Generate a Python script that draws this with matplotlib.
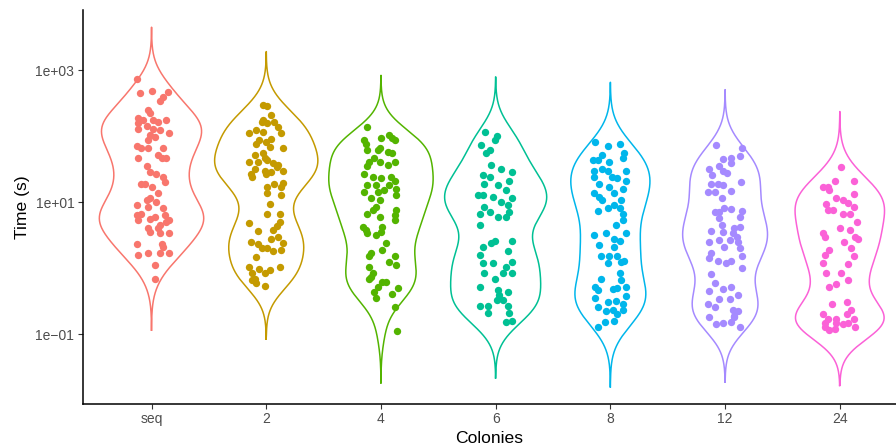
import numpy as np
import matplotlib
matplotlib.use("Agg")
import matplotlib.pyplot as plt

plt.rcParams["font.family"] = ["Liberation Sans", "DejaVu Sans"]

# categories and per-point values (seconds), plus horizontal jitter
colonies = ["seq", "2", "4", "6", "8", "12", "24"]

seq_time = [740, 450, 480, 460, 390, 340, 245, 220, 185, 175, 155, 175, 165, 175,
            130, 140, 130, 123, 110, 105, 98, 87, 71, 65, 65, 65, 46, 52, 46, 46,
            35, 29, 27, 24, 20, 19, 19, 17, 13.5, 11.4, 10.1, 10.7, 8.9, 8.5, 8.0,
            6.3, 6.7, 5.3, 5.6, 6.0, 6.3, 5.0, 5.3, 4.5, 4.0, 3.5, 4.0, 3.4, 3.4,
            2.3, 2.3, 2.1, 1.6, 1.7, 1.7, 1.7, 1.1, 0.69]
seq_jit = [-0.13, -0.10, 0.00, 0.14, 0.10, 0.07, -0.03, -0.01, -0.12, -0.07, -0.12, 0.01, 0.06, 0.13,
           -0.12, -0.04, 0.01, 0.07, 0.15, -0.01, 0.03, -0.03, -0.13, -0.09, -0.03, 0.10, -0.12, 0.06, 0.09, 0.13,
           -0.04, -0.01, 0.04, 0.10, 0.12, -0.09, -0.06, 0.00, 0.06, -0.01, 0.04, -0.04, -0.13, -0.03, 0.10,
           -0.13, -0.09, -0.12, -0.01, 0.03, 0.12, 0.13, 0.15, 0.07, -0.03, -0.01, 0.06, 0.07, 0.15,
           -0.13, 0.09, 0.10, -0.12, -0.03, 0.07, 0.15, 0.03, 0.03]

c2_time = [295, 285, 210, 175, 165, 155, 165, 135, 123, 112, 117, 110, 91, 87, 82, 77,
           69, 67, 52, 55, 46, 41, 41, 44, 39, 36, 32, 30, 29, 30, 27, 24,
           27, 34, 17, 19, 19.5, 17, 13.5, 12.9, 9.3, 6.5, 6.5, 4.8, 4.9, 4.3, 3.8, 3.6,
           3.0, 2.4, 2.8, 2.5, 2.3, 2.0, 2.0, 1.8, 1.9, 1.45, 1.05, 0.98, 0.93, 1.05, 0.83, 0.83,
           0.69, 0.59, 0.54, 0.66]
c2_jit = [-0.03, 0.01, 0.04, -0.03, -0.04, 0.01, 0.07, 0.10, -0.09, -0.15, -0.03, 0.13, 0.04, -0.06, 0.00, -0.09,
          0.03, 0.15, -0.10, -0.03, -0.01, -0.15, -0.07, 0.01, 0.06, 0.10, -0.10, -0.01, 0.04, 0.15, -0.13, -0.12,
          0.00, 0.09, 0.01, 0.07, 0.15, 0.13, 0.01, 0.13, 0.03, 0.01, 0.12, -0.15, 0.12, 0.09, 0.06, -0.07,
          0.10, 0.15, 0.04, -0.13, -0.07, -0.04, 0.01, 0.06, 0.13, -0.09, -0.15, -0.06, 0.03, 0.12, -0.12, -0.01,
          -0.10, -0.09, -0.01, -0.12]

c4_time = [138, 87, 77, 92, 104, 92, 87, 61, 61, 65, 58, 55, 46, 41, 41, 41,
           35, 36, 27, 24, 23, 24, 21, 18, 18, 18, 16, 14.4, 14.4, 15.2, 12.8, 11.4,
           10.7, 8.5, 7.6, 6.7, 7.6, 6.0, 6.3, 5.3, 4.2, 4.2, 3.4, 3.2, 3.5, 2.4, 1.9, 1.7,
           1.5, 1.5, 1.25, 1.1, 1.05, 0.83, 0.69, 0.62, 0.62, 0.52, 0.44, 0.49, 0.41, 0.35, 0.26, 0.11,
           0.74, 3.8]
c4_jit = [-0.12, -0.15, -0.13, 0.00, 0.07, 0.10, 0.12, -0.12, -0.03, -0.01, 0.06, 0.10, -0.06, -0.10, -0.01, 0.12,
          -0.12, 0.06, -0.15, -0.07, 0.00, 0.09, 0.12, -0.12, -0.04, 0.07, 0.13, -0.15, -0.03, 0.03, 0.13, -0.09,
          -0.01, -0.04, -0.07, -0.12, 0.13, -0.01, 0.12, 0.12, -0.16, 0.01, -0.12, -0.04, 0.00, 0.04, 0.01, -0.09,
          -0.10, 0.12, 0.07, 0.13, -0.10, -0.07, -0.10, 0.01, 0.04, -0.03, -0.06, 0.15, 0.10, -0.04, 0.12, 0.14,
          -0.09, -0.13]

c6_time = [114, 100, 87, 73, 61, 55, 36, 32, 29, 26, 24, 21, 19, 18, 12.8, 12.8,
           12.0, 15.2, 11.4, 8.5, 10.1, 9.0, 6.7, 7.1, 6.0, 6.0, 7.1, 4.5, 2.4, 2.6, 2.6, 2.1,
           1.6, 1.8, 1.2, 1.2, 1.25, 1.05, 0.83, 0.69, 0.83, 0.83, 0.51, 0.47, 0.39, 0.44, 0.33, 0.33,
           0.27, 0.27, 0.21, 0.27, 0.21, 0.15, 0.16]
c6_jit = [-0.09, 0.01, -0.01, -0.13, -0.05, -0.08, -0.04, 0.05, 0.14, -0.11, -0.05, 0.12, -0.10, 0.02, -0.15, -0.11,
          -0.02, 0.09, 0.14, -0.10, 0.05, 0.11, -0.14, -0.05, 0.02, 0.09, 0.12, -0.14, -0.04, -0.01, 0.14, -0.11,
          -0.14, 0.11, -0.11, -0.02, 0.14, 0.09, -0.10, -0.01, 0.06, 0.14, -0.14, 0.02, 0.03, 0.11, 0.06, 0.01,
          -0.14, -0.07, -0.07, 0.11, 0.12, 0.09, 0.14]

c8_time = [82, 71, 77, 55, 52, 44, 43, 41, 46, 30, 32, 30, 30, 24, 24, 23,
           21, 19, 17, 16, 13.5, 12.0, 13.5, 10.7, 10.7, 7.4, 8.0, 9.0, 8.0, 6.7, 5.3, 4.5,
           3.4, 3.2, 3.4, 2.2, 2.8, 2.6, 2.1, 1.5, 1.5, 1.5, 1.2, 1.3, 1.25, 0.85, 0.69, 0.66,
           0.52, 0.47, 0.48, 0.49, 0.52, 0.35, 0.38, 0.31, 0.32, 0.26, 0.22, 0.23, 0.29, 0.20, 0.16, 0.15,
           0.126, 0.23]
c8_jit = [-0.13, -0.02, 0.08, 0.12, -0.07, -0.15, -0.11, -0.01, 0.11, -0.14, -0.07, -0.02, 0.14, -0.14, 0.01, 0.06,
          0.14, -0.10, -0.01, 0.11, -0.14, -0.10, 0.03, 0.09, -0.07, -0.11, -0.02, 0.03, 0.08, 0.11, 0.11, 0.05,
          0.14, -0.14, -0.04, -0.10, 0.03, 0.08, 0.03, -0.08, -0.01, 0.06, -0.02, 0.12, 0.09, 0.08, -0.08, 0.09,
          -0.13, -0.11, 0.02, 0.06, 0.14, -0.13, 0.14, -0.02, 0.05, -0.11, -0.04, 0.02, 0.11, 0.06, 0.03, -0.05,
          -0.11, 0.11]

c12_time = [73, 65, 50, 45, 46, 39, 32, 35, 30, 28, 26, 18.6, 19, 18, 20, 14,
            14, 14.7, 11.4, 7.1, 8.2, 7.8, 7.3, 6.0, 5.7, 4.5, 4.0, 3.6, 3.5, 4.2, 3.4, 2.5,
            2.7, 2.7, 2.5, 2.1, 2.0, 1.5, 1.7, 1.4, 1.3, 1.2, 1.3, 1.0, 0.82, 0.60, 0.48, 0.52,
            0.45, 0.39, 0.34, 0.34, 0.29, 0.26, 0.23, 0.22, 0.18, 0.18, 0.14, 0.145, 0.15, 0.13, 0.19, 7.1,
            3.0]
c12_jit = [-0.08, 0.15, 0.13, -0.02, 0.05, 0.05, -0.14, -0.05, -0.02, 0.02, -0.11, -0.12, -0.06, -0.02, 0.14, -0.15,
           -0.09, 0.05, -0.03, -0.09, -0.01, 0.05, 0.15, 0.13, -0.05, -0.03, 0.08, -0.12, -0.02, 0.13, 0.07, -0.14,
           -0.05, 0.04, 0.11, -0.01, 0.13, 0.15, -0.12, -0.14, -0.06, 0.01, 0.05, 0.15, -0.12, -0.09, -0.02, 0.05,
           -0.14, 0.11, -0.05, 0.04, -0.15, -0.09, 0.07, 0.11, 0.08, -0.14, -0.08, -0.02, 0.05, 0.13, 0.08, -0.05,
           0.10]

c24_time = [34, 21, 21, 17, 15, 13.2, 11.4, 10.7, 9.5, 9.8, 8.3, 7.6, 6.7, 6.7, 5.0, 4.1,
            3.8, 3.4, 3.0, 3.0, 2.5, 2.0, 1.9, 1.6, 1.5, 1.2, 1.15, 0.83, 0.83, 0.65, 0.57, 0.52,
            0.31, 0.29, 0.20, 0.23, 0.17, 0.17, 0.20, 0.17, 0.13, 0.12, 0.14, 0.13, 0.115, 0.145, 0.145, 0.145,
            17, 7.6, 2.8]
c24_jit = [0.01, 0.12, -0.04, -0.15, -0.09, 0.12, -0.03, 0.03, -0.12, 0.07, 0.12, -0.10, 0.03, 0.09, 0.15, 0.00,
           0.09, -0.15, -0.13, 0.13, 0.04, 0.10, -0.09, -0.13, 0.12, -0.15, 0.07, -0.12, 0.01, 0.07, -0.03, -0.09,
           0.06, -0.07, -0.15, 0.10, -0.10, -0.03, 0.06, 0.12, -0.13, -0.04, 0.03, 0.13, -0.09, 0.07, -0.13, -0.03,
           -0.10, -0.06, 0.16]

times = [seq_time, c2_time, c4_time, c6_time, c8_time, c12_time, c24_time]
jitters = [seq_jit, c2_jit, c4_jit, c6_jit, c8_jit, c12_jit, c24_jit]

# styling
colors = ["#F8766D", "#C49A00", "#53B400", "#00C094", "#00B6EB", "#A58AFF", "#FB61D7"]
widths = [0.91, 0.90, 0.91, 0.89, 0.69, 0.74, 0.78]
bws = [0.26, 0.27, 0.26, 0.28, 0.30, 0.28, 0.28]

fig = plt.figure(figsize=(8.96, 4.47), dpi=100)
ax = fig.add_axes([82.7 / 896, 43 / 447, 1 - 82.7 / 896, 394 / 447])

for i, (t, jit) in enumerate(zip(times, jitters)):
    lt = np.log10(np.asarray(t, dtype=float))
    bw = bws[i]
    grid = np.linspace(lt.min() - 3 * bw, lt.max() + 3 * bw, 512)
    dens = np.exp(-0.5 * ((grid[:, None] - lt[None, :]) / bw) ** 2).sum(axis=1)
    hw = dens / dens.max() * widths[i] / 2
    xs = np.concatenate([i - hw, (i + hw)[::-1], [i - hw[0]]])
    ys = np.concatenate([grid, grid[::-1], [grid[0]]])
    ax.plot(xs, 10 ** ys, color=colors[i], lw=1.1, zorder=2)
    ax.scatter(i + np.asarray(jit), t, s=28, color=colors[i], linewidths=0, zorder=3)

ax.set_yscale("log")
ax.set_ylim(10 ** -2.06, 10 ** 3.91)
ax.set_xlim(-0.6, 6.49)
ax.set_yticks([0.1, 10, 1000])
ax.set_yticklabels(["1e\u221201", "1e+01", "1e+03"])
ax.yaxis.set_minor_locator(matplotlib.ticker.NullLocator())
ax.set_xticks(range(len(colonies)))
ax.set_xticklabels(colonies)

for s in ["top", "right"]:
    ax.spines[s].set_visible(False)
for s in ["left", "bottom"]:
    ax.spines[s].set_linewidth(1.1)
    ax.spines[s].set_color("black")
ax.tick_params(length=3.5, width=0.8, color="#333333", labelcolor="#4D4D4D",
               labelsize=10, pad=2.5)

ax.set_xlabel("Colonies", fontsize=12.6, color="black", labelpad=3.5)
ax.set_ylabel("Time (s)", fontsize=12.6, color="black", labelpad=4)

fig.savefig("out.png", dpi=100)
